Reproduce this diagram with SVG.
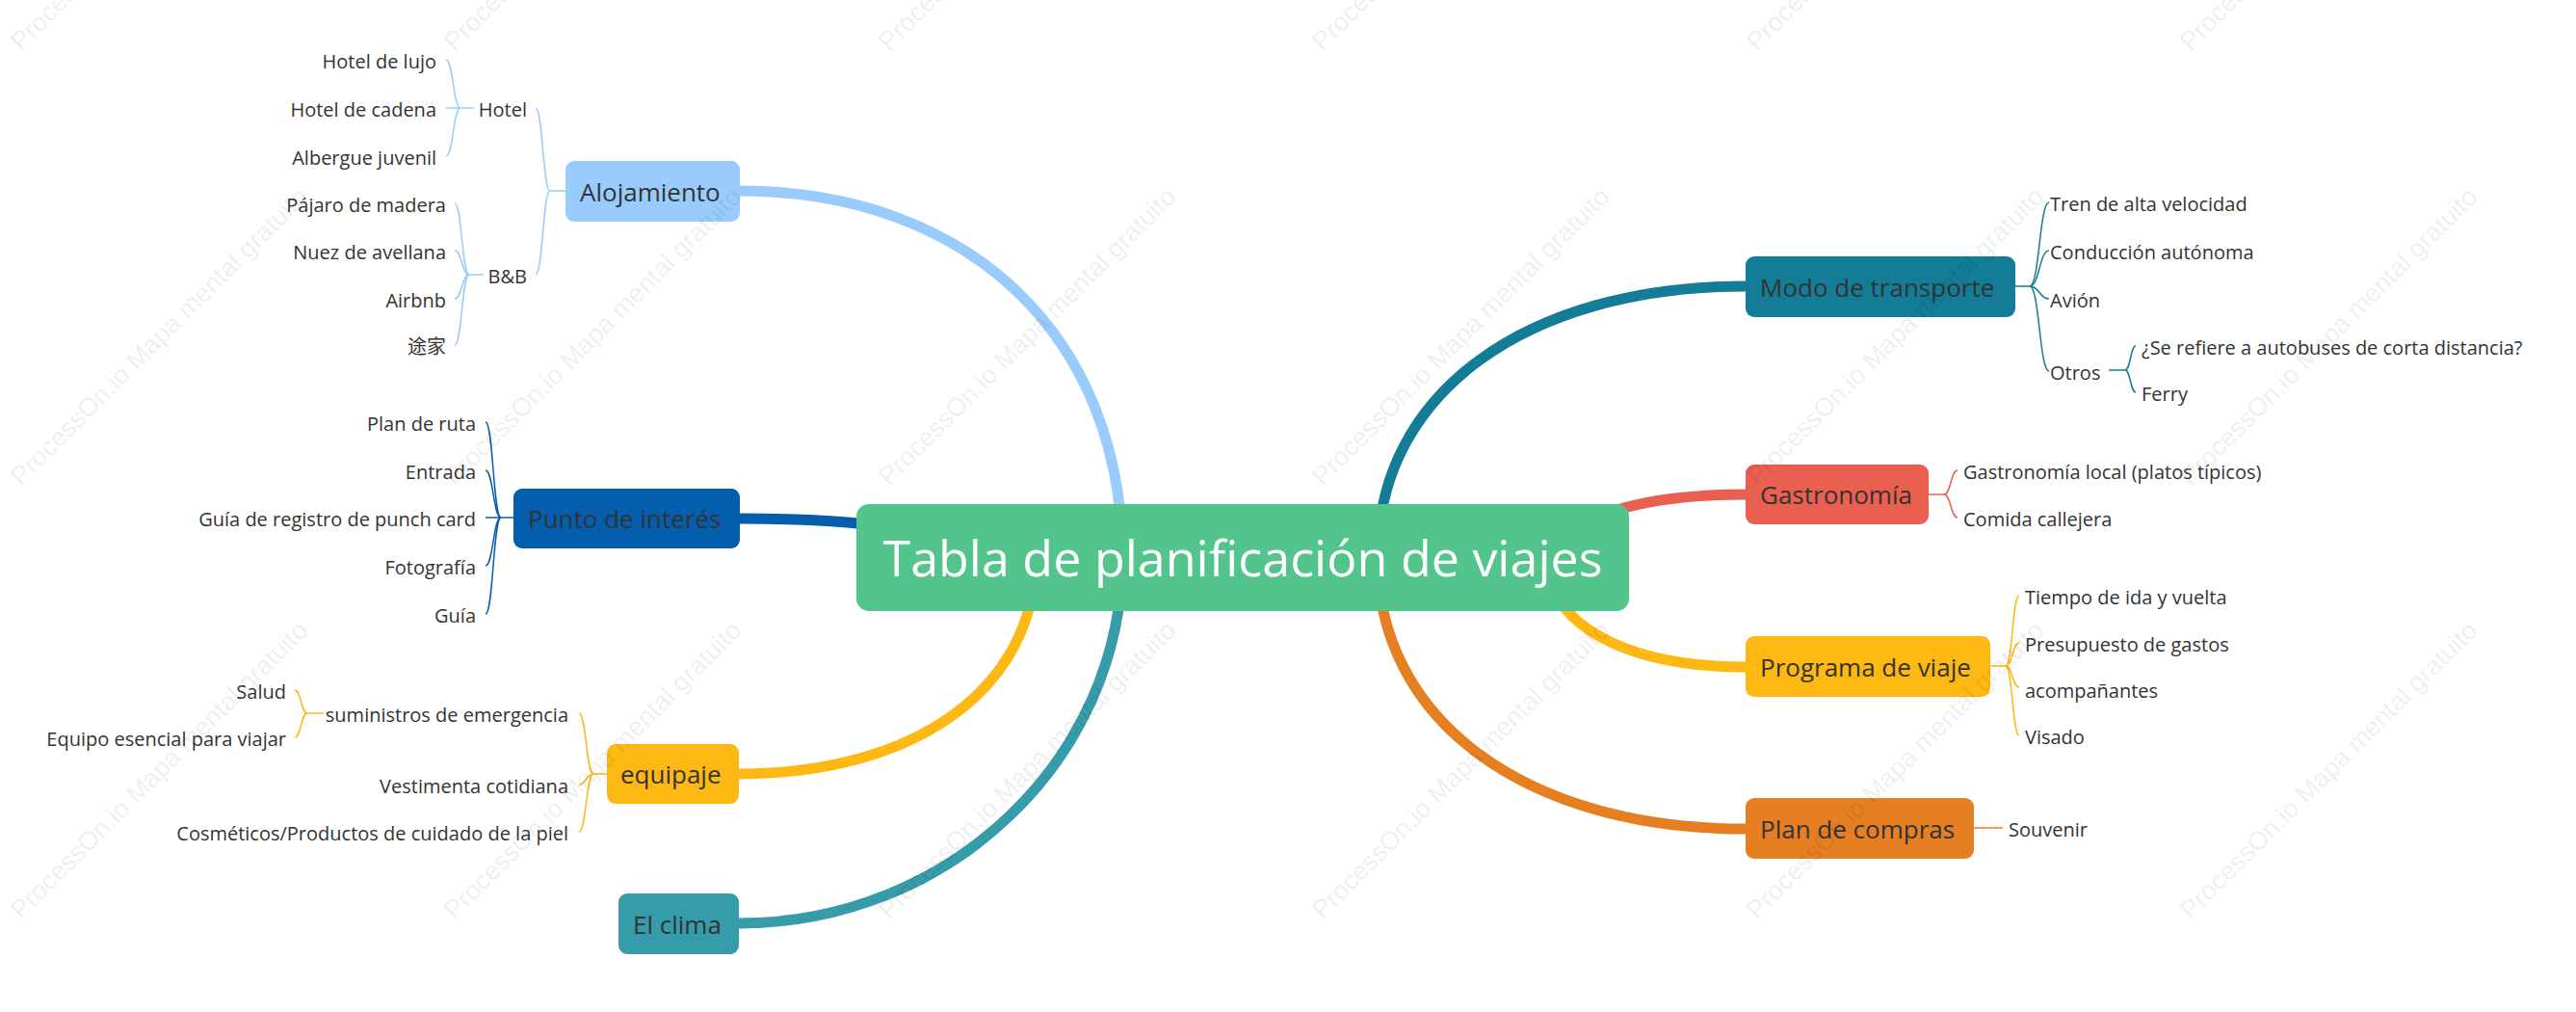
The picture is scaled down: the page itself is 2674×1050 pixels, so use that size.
<svg xmlns="http://www.w3.org/2000/svg" width="2674" height="1050" viewBox="0 0 2674 1050">
<style>
text { font-family: "Open Sans", "Noto Sans CJK SC", sans-serif; }
.leaf { font-size: 20px; fill: #333333; }
.topic { font-size: 26px; fill: #333333; }
.roott { font-size: 52px; fill: #ffffff; }
.main { fill: none; stroke-width: 11; }
.thin { fill: none; stroke-width: 1.5; }
.wm { font-family: "Liberation Sans", Arial, sans-serif; font-size: 27px; fill: #000000; fill-opacity: 0.085; }
.c1 { stroke: #99cbfd; } .f1 { fill: #99cbfd; }
.c2 { stroke: #045ead; } .f2 { fill: #045ead; }
.c3 { stroke: #fdb813; } .f3 { fill: #fdb813; }
.c4 { stroke: #369ca9; } .f4 { fill: #369ca9; }
.c5 { stroke: #137c96; } .f5 { fill: #137c96; }
.c6 { stroke: #e95f50; } .f6 { fill: #e95f50; }
.c7 { stroke: #e67e22; } .f7 { fill: #e67e22; }
</style>
<rect x="0" y="0" width="2674" height="1050" fill="#ffffff"/>

<g id="connectors">
  <!-- main branches -->
  <path class="main c1" d="M768 198 C1006 198 1165 350 1165 578"/>
  <path class="main c2" d="M768 538 C907 538 1000 554 1000 578"/>
  <path class="main c3" d="M767 803 C952 803 1075 713 1075 578"/>
  <path class="main c4" d="M767 958 C986 958 1165 787 1165 578"/>
  <path class="main c5" d="M1812 297 C1583 297 1430 409 1430 578"/>
  <path class="main c6" d="M1812 513 C1697 513 1620 539 1620 578"/>
  <path class="main c3" d="M1812 692 C1685 692 1605 646 1605 578"/>
  <path class="main c7" d="M1812 860 C1583 860 1430 747 1430 578"/>

  <!-- Alojamiento -->
  <path class="thin c1" d="M587 198 H571"/>
  <path class="thin c1" d="M571 198 C563.5 198 563.5 112 556 112"/>
  <path class="thin c1" d="M571 198 C563.5 198 563.5 285 556 285"/>
  <path class="thin c1" d="M492 112 H478"/>
  <path class="thin c1" d="M478 112 C470.5 112 470.5 62 463 62"/>
  <path class="thin c1" d="M478 112 H463"/>
  <path class="thin c1" d="M478 112 C470.5 112 470.5 162 463 162"/>
  <path class="thin c1" d="M502 285 H487"/>
  <path class="thin c1" d="M487 285 C479.5 285 479.5 211 472 211"/>
  <path class="thin c1" d="M487 285 C479.5 285 479.5 260 472 260"/>
  <path class="thin c1" d="M487 285 C479.5 285 479.5 310 472 310"/>
  <path class="thin c1" d="M487 285 C479.5 285 479.5 358 472 358"/>

  <!-- Punto de interés -->
  <path class="thin c2" d="M533 537 H520"/>
  <path class="thin c2" d="M520 537 C512 537 512 438 504 438"/>
  <path class="thin c2" d="M520 537 C512 537 512 488 504 488"/>
  <path class="thin c2" d="M520 537 H504"/>
  <path class="thin c2" d="M520 537 C512 537 512 587 504 587"/>
  <path class="thin c2" d="M520 537 C512 537 512 637 504 637"/>

  <!-- equipaje -->
  <path class="thin c3" d="M630 803 H616"/>
  <path class="thin c3" d="M616 803 C608.5 803 608.5 740 601 740"/>
  <path class="thin c3" d="M616 803 C608.5 803 608.5 814 601 814"/>
  <path class="thin c3" d="M616 803 C608.5 803 608.5 863 601 863"/>
  <path class="thin c3" d="M336 740 H319"/>
  <path class="thin c3" d="M319 740 C312.5 740 312.5 716 306 716"/>
  <path class="thin c3" d="M319 740 C312.5 740 312.5 765 306 765"/>

  <!-- Modo de transporte -->
  <path class="thin c5" d="M2092 297 H2107"/>
  <path class="thin c5" d="M2107 297 C2117 297 2117 210 2127 210"/>
  <path class="thin c5" d="M2107 297 C2117 297 2117 260 2127 260"/>
  <path class="thin c5" d="M2107 297 C2117 297 2117 310 2127 310"/>
  <path class="thin c5" d="M2107 297 C2117 297 2117 385 2127 385"/>
  <path class="thin c5" d="M2189 384 H2206"/>
  <path class="thin c5" d="M2206 384 C2211.5 384 2211.5 359 2217 359"/>
  <path class="thin c5" d="M2206 384 C2211.5 384 2211.5 407 2217 407"/>

  <!-- Gastronomía -->
  <path class="thin c6" d="M2002 513 H2018"/>
  <path class="thin c6" d="M2018 513 C2025 513 2025 488 2032 488"/>
  <path class="thin c6" d="M2018 513 C2025 513 2025 537 2032 537"/>

  <!-- Programa de viaje -->
  <path class="thin c3" d="M2066 691 H2082"/>
  <path class="thin c3" d="M2082 691 C2089 691 2089 618 2096 618"/>
  <path class="thin c3" d="M2082 691 C2089 691 2089 667 2096 667"/>
  <path class="thin c3" d="M2082 691 C2089 691 2089 713 2096 713"/>
  <path class="thin c3" d="M2082 691 C2089 691 2089 763 2096 763"/>

  <!-- Plan de compras -->
  <path class="thin c7" d="M2049 859 H2079"/>
</g>

<g id="root">
  <rect x="889" y="523" width="802" height="111" rx="13" fill="#52c48c"/>
  <text class="roott" x="1290" y="598" text-anchor="middle">Tabla de planificación de viajes</text>
</g>

<g id="alojamiento">
  <rect class="f1" x="587" y="167" width="181" height="63" rx="9"/>
  <text class="topic" x="602" y="209">Alojamiento</text>
</g>
<g id="punto-de-interes">
  <rect class="f2" x="533" y="507" width="235" height="62" rx="9"/>
  <text class="topic" x="548" y="548">Punto de interés</text>
</g>
<g id="equipaje">
  <rect class="f3" x="630" y="772" width="137" height="62" rx="9"/>
  <text class="topic" x="644" y="813">equipaje</text>
</g>
<g id="el-clima">
  <rect class="f4" x="642" y="927" width="125" height="63" rx="9"/>
  <text class="topic" x="657" y="969">El clima</text>
</g>
<g id="modo-de-transporte">
  <rect class="f5" x="1812" y="266" width="280" height="63" rx="9"/>
  <text class="topic" x="1827" y="308">Modo de transporte</text>
</g>
<g id="gastronomia">
  <rect class="f6" x="1812" y="482" width="190" height="62" rx="9"/>
  <text class="topic" x="1827" y="523">Gastronomía</text>
</g>
<g id="programa-de-viaje">
  <rect class="f3" x="1812" y="660" width="254" height="63" rx="9"/>
  <text class="topic" x="1827" y="702">Programa de viaje</text>
</g>
<g id="plan-de-compras">
  <rect class="f7" x="1812" y="828" width="237" height="63" rx="9"/>
  <text class="topic" x="1827" y="870">Plan de compras</text>
</g>

<g id="hotel"><text class="leaf" x="547" y="121" text-anchor="end">Hotel</text></g>
<g id="bnb"><text class="leaf" x="547" y="294" text-anchor="end">B&amp;B</text></g>
<g id="hotel-de-lujo"><text class="leaf" x="453" y="71" text-anchor="end">Hotel de lujo</text></g>
<g id="hotel-de-cadena"><text class="leaf" x="453" y="121" text-anchor="end">Hotel de cadena</text></g>
<g id="albergue-juvenil"><text class="leaf" x="453" y="171" text-anchor="end">Albergue juvenil</text></g>
<g id="pajaro-de-madera"><text class="leaf" x="463" y="220" text-anchor="end">Pájaro de madera</text></g>
<g id="nuez-de-avellana"><text class="leaf" x="463" y="269" text-anchor="end">Nuez de avellana</text></g>
<g id="airbnb"><text class="leaf" x="463" y="319" text-anchor="end">Airbnb</text></g>
<g id="tujia"><text class="leaf" x="463" y="367" text-anchor="end">途家</text></g>

<g id="plan-de-ruta"><text class="leaf" x="494" y="447" text-anchor="end">Plan de ruta</text></g>
<g id="entrada"><text class="leaf" x="494" y="497" text-anchor="end">Entrada</text></g>
<g id="guia-punch-card"><text class="leaf" x="494" y="546" text-anchor="end">Guía de registro de punch card</text></g>
<g id="fotografia"><text class="leaf" x="494" y="596" text-anchor="end">Fotografía</text></g>
<g id="guia"><text class="leaf" x="494" y="646" text-anchor="end">Guía</text></g>

<g id="suministros"><text class="leaf" x="590" y="749" text-anchor="end">suministros de emergencia</text></g>
<g id="vestimenta"><text class="leaf" x="590" y="823" text-anchor="end">Vestimenta cotidiana</text></g>
<g id="cosmeticos"><text class="leaf" x="590" y="872" text-anchor="end">Cosméticos/Productos de cuidado de la piel</text></g>
<g id="salud"><text class="leaf" x="297" y="725" text-anchor="end">Salud</text></g>
<g id="equipo-esencial"><text class="leaf" x="297" y="774" text-anchor="end">Equipo esencial para viajar</text></g>

<g id="tren"><text class="leaf" x="2128" y="219">Tren de alta velocidad</text></g>
<g id="conduccion"><text class="leaf" x="2128" y="269">Conducción autónoma</text></g>
<g id="avion"><text class="leaf" x="2128" y="319">Avión</text></g>
<g id="otros"><text class="leaf" x="2128" y="394">Otros</text></g>
<g id="autobuses"><text class="leaf" x="2223" y="368">¿Se refiere a autobuses de corta distancia?</text></g>
<g id="ferry"><text class="leaf" x="2223" y="416">Ferry</text></g>

<g id="gastronomia-local"><text class="leaf" x="2038" y="497">Gastronomía local (platos típicos)</text></g>
<g id="comida-callejera"><text class="leaf" x="2038" y="546">Comida callejera</text></g>

<g id="tiempo"><text class="leaf" x="2102" y="627">Tiempo de ida y vuelta</text></g>
<g id="presupuesto"><text class="leaf" x="2102" y="676">Presupuesto de gastos</text></g>
<g id="acompanantes"><text class="leaf" x="2102" y="724">acompañantes</text></g>
<g id="visado"><text class="leaf" x="2102" y="772">Visado</text></g>

<g id="souvenir"><text class="leaf" x="2085" y="868">Souvenir</text></g>

<g id="watermarks">
  <text class="wm" transform="translate(22 54) rotate(-45)">ProcessOn.io Mapa mental gratuito</text>
  <text class="wm" transform="translate(472 54) rotate(-45)">ProcessOn.io Mapa mental gratuito</text>
  <text class="wm" transform="translate(923 54) rotate(-45)">ProcessOn.io Mapa mental gratuito</text>
  <text class="wm" transform="translate(1373 54) rotate(-45)">ProcessOn.io Mapa mental gratuito</text>
  <text class="wm" transform="translate(1824 54) rotate(-45)">ProcessOn.io Mapa mental gratuito</text>
  <text class="wm" transform="translate(2274 54) rotate(-45)">ProcessOn.io Mapa mental gratuito</text>
  <text class="wm" transform="translate(22 505) rotate(-45)">ProcessOn.io Mapa mental gratuito</text>
  <text class="wm" transform="translate(472 505) rotate(-45)">ProcessOn.io Mapa mental gratuito</text>
  <text class="wm" transform="translate(923 505) rotate(-45)">ProcessOn.io Mapa mental gratuito</text>
  <text class="wm" transform="translate(1373 505) rotate(-45)">ProcessOn.io Mapa mental gratuito</text>
  <text class="wm" transform="translate(1824 505) rotate(-45)">ProcessOn.io Mapa mental gratuito</text>
  <text class="wm" transform="translate(2274 505) rotate(-45)">ProcessOn.io Mapa mental gratuito</text>
  <text class="wm" transform="translate(22 955) rotate(-45)">ProcessOn.io Mapa mental gratuito</text>
  <text class="wm" transform="translate(472 955) rotate(-45)">ProcessOn.io Mapa mental gratuito</text>
  <text class="wm" transform="translate(923 955) rotate(-45)">ProcessOn.io Mapa mental gratuito</text>
  <text class="wm" transform="translate(1373 955) rotate(-45)">ProcessOn.io Mapa mental gratuito</text>
  <text class="wm" transform="translate(1824 955) rotate(-45)">ProcessOn.io Mapa mental gratuito</text>
  <text class="wm" transform="translate(2274 955) rotate(-45)">ProcessOn.io Mapa mental gratuito</text>
</g>
</svg>
